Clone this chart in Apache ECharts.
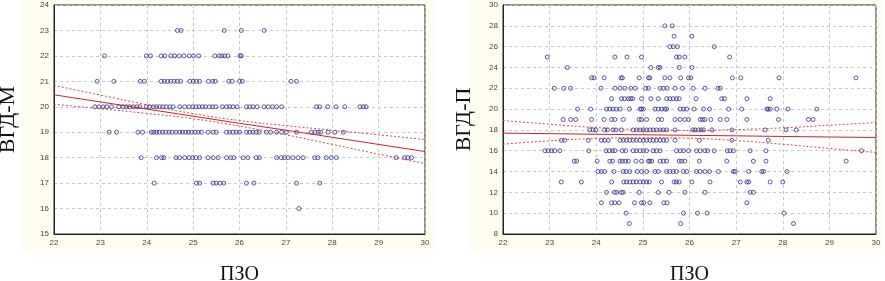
<!DOCTYPE html>
<html>
<head>
<meta charset="utf-8">
<script src="https://cdn.jsdelivr.net/npm/echarts@6/dist/echarts.min.js"></script>
<style>
html,body{margin:0;padding:0;background:#fff;}
#chart{width:885px;height:281px;}
</style>
</head>
<body>
<div id="chart"></div>
<script>
// ---- Axis settings ----
const xMin = 22, xMax = 30;
const mYMin = 15, mYMax = 24;
const pYMin = 8, pYMax = 30;
const xTitle = 'ПЗО';
const mTitle = 'ВГД-М';
const pTitle = 'ВГД-П';

// ---- Left plot (ВГД-М): x values (ПЗО) for each integer ВГД-М level ----
const m23 = [24.66, 24.74, 25.67, 26.04, 26.53];
const m22 = [23.09, 23.99, 24.08, 24.31, 24.39, 24.52, 24.6, 24.7, 24.8, 24.92, 25.01, 25.12, 25.47, 25.56, 25.62, 25.68, 25.75, 26.01, 26.04];
const m21 = [22.93, 23.29, 23.86, 23.95, 24.31, 24.38, 24.45, 24.52, 24.59, 24.66, 24.73, 24.93, 25.0, 25.07, 25.14, 25.33, 25.42, 25.48, 25.77, 25.84, 26.0, 26.06, 27.11, 27.23];
const m20 = [22.88, 22.97, 23.06, 23.14, 23.24, 23.40, 23.49, 23.56, 23.63, 23.71, 23.79, 23.85, 23.99, 24.06, 24.14, 24.21, 24.28, 24.35, 24.42, 24.50, 24.57, 24.71, 24.82, 24.91, 24.99, 25.06, 25.13, 25.20, 25.27, 25.35, 25.42, 25.49, 25.63, 25.72, 25.79, 25.86, 25.95, 26.15, 26.22, 26.29, 26.38, 26.53, 26.62, 26.71, 26.80, 26.91, 27.66, 27.73, 27.90, 28.08, 28.27, 28.60, 28.67, 28.73];
const m19 = [23.19, 23.35, 23.81, 23.91, 24.10, 24.15, 24.21, 24.27, 24.34, 24.41, 24.48, 24.55, 24.63, 24.71, 24.77, 24.84, 24.90, 24.97, 25.04, 25.11, 25.18, 25.32, 25.43, 25.50, 25.72, 25.79, 25.86, 25.93, 26.0, 26.15, 26.22, 26.29, 26.36, 26.42, 26.58, 26.67, 26.80, 26.91, 27.01, 27.23, 27.55, 27.63, 27.70, 27.75, 27.91, 28.06, 28.24];
const m18 = [23.88, 24.21, 24.32, 24.37, 24.63, 24.71, 24.82, 24.91, 24.99, 25.06, 25.14, 25.32, 25.43, 25.54, 25.72, 25.81, 25.88, 26.08, 26.18, 26.36, 26.43, 26.80, 26.90, 26.97, 27.05, 27.15, 27.26, 27.37, 27.62, 27.69, 27.87, 27.98, 28.09, 29.38, 29.56, 29.63, 29.71];
const m17 = [24.16, 25.07, 25.14, 25.43, 25.50, 25.58, 25.66, 26.15, 26.31, 27.23, 27.73];
const m16 = [27.28];

// regression line and confidence band
const bandX   = [22, 23, 24, 25, 26, 27, 28, 29, 30];
const mFit    = [20.47, 20.19, 19.91, 19.63, 19.35, 19.08, 18.80, 18.52, 18.24];
const mUpper  = [20.84, 20.46, 20.08, 19.73, 19.46, 19.26, 19.08, 18.90, 18.71];
const mLower  = [20.10, 19.92, 19.74, 19.53, 19.24, 18.90, 18.52, 18.14, 17.77];

// ---- Right plot (ВГД-П): x values (ПЗО) for each integer ВГД-П level ----
const p28 = [25.47, 25.63];
const p27 = [25.67, 26.05];
const p26 = [25.58, 25.65, 25.74, 26.53];
const p25 = [22.95, 24.40, 24.66, 24.97, 25.72, 25.78, 25.90, 26.86];
const p24 = [23.38, 25.17, 25.33, 25.37, 25.78, 26.05];
const p23 = [23.90, 23.95, 24.17, 24.53, 24.56, 24.92, 25.12, 25.15, 25.47, 25.58, 25.81, 25.98, 26.03, 26.92, 27.10, 27.92, 29.57];
const p22 = [23.10, 23.30, 23.45, 24.10, 24.40, 24.51, 24.61, 24.74, 24.84, 25.06, 25.12, 25.37, 25.44, 25.52, 25.69, 25.85, 26.08, 26.33, 26.61, 26.66];
const p21 = [24.33, 24.54, 24.61, 24.69, 24.74, 24.78, 24.97, 25.17, 25.33, 25.51, 25.58, 25.65, 25.72, 25.78, 26.14, 26.69, 26.75, 27.23, 27.73];
const p20 = [23.60, 23.88, 24.22, 24.29, 24.36, 24.43, 24.51, 24.71, 24.94, 24.97, 25.01, 25.26, 25.33, 25.40, 25.47, 25.51, 25.80, 25.87, 25.94, 26.10, 26.30, 26.43, 26.84, 27.12, 27.66, 27.69, 27.73, 27.87, 28.11, 28.73];
const p19 = [23.29, 23.45, 23.56, 23.90, 24.17, 24.33, 24.40, 24.58, 24.92, 24.97, 25.08, 25.33, 25.40, 25.69, 25.80, 25.90, 25.98, 26.23, 26.28, 26.33, 26.46, 26.66, 26.80, 27.23, 27.91, 28.55, 28.65];
const p18 = [23.86, 23.93, 23.99, 24.18, 24.24, 24.36, 24.42, 24.54, 24.79, 24.86, 24.94, 25.01, 25.08, 25.15, 25.22, 25.29, 25.37, 25.44, 25.51, 25.69, 26.07, 26.12, 26.19, 26.25, 26.30, 26.48, 26.91, 27.62, 28.07, 28.29];
const p17 = [23.25, 23.32, 23.83, 24.11, 24.18, 24.26, 24.51, 24.58, 24.65, 24.72, 24.79, 24.86, 24.94, 25.01, 25.08, 25.15, 25.22, 25.29, 25.37, 25.44, 25.51, 25.69, 26.21, 26.91, 27.69];
const p16 = [22.90, 22.97, 23.04, 23.11, 23.22, 23.84, 24.21, 24.28, 24.35, 24.40, 24.56, 24.63, 24.79, 24.86, 24.94, 25.01, 25.08, 25.22, 25.29, 25.37, 25.72, 25.80, 25.87, 25.98, 26.15, 26.23, 26.33, 26.39, 26.53, 26.81, 26.87, 26.94, 27.30, 27.64, 29.69];
const p15 = [23.53, 23.58, 24.02, 24.29, 24.35, 24.51, 24.56, 24.63, 24.69, 24.85, 24.97, 25.12, 25.15, 25.19, 25.37, 25.44, 25.51, 25.78, 25.83, 25.90, 26.21, 26.80, 27.37, 27.64, 29.36];
const p14 = [24.04, 24.11, 24.18, 24.38, 24.58, 24.64, 24.72, 24.88, 24.97, 25.08, 25.26, 25.33, 25.51, 25.58, 25.65, 25.72, 25.87, 25.94, 26.15, 26.23, 26.33, 26.43, 26.62, 26.94, 26.98, 27.27, 27.55, 27.59, 28.09];
const p13 = [23.25, 23.68, 24.33, 24.59, 24.65, 24.72, 24.79, 24.86, 24.94, 25.01, 25.08, 25.14, 25.40, 25.67, 25.72, 25.78, 26.05, 26.44, 27.09, 27.23, 27.27, 27.73, 28.00];
const p12 = [24.22, 24.39, 24.44, 24.54, 24.58, 24.92, 25.33, 25.56, 25.90, 26.33, 27.30, 27.37];
const p11 = [24.11, 24.33, 24.40, 24.49, 24.82, 24.97, 25.02, 25.15, 25.45, 25.52, 27.23];
const p10 = [24.64, 25.87, 26.17, 26.38, 28.03];
const p9  = [24.71, 25.81, 28.23];

const pFit   = [17.69, 17.64, 17.58, 17.53, 17.48, 17.43, 17.37, 17.32, 17.27];
const pUpper = [18.90, 18.55, 18.22, 18.02, 17.95, 18.03, 18.20, 18.45, 18.71];
const pLower = [16.63, 16.95, 17.18, 17.25, 17.20, 16.97, 16.62, 16.22, 15.83];

// ---- build point lists ----
function rows(list) {
  const out = [];
  list.forEach(([y, xs]) => xs.forEach(x => out.push([x, y])));
  return out;
}
const mPoints = rows([[23,m23],[22,m22],[21,m21],[20,m20],[19,m19],[18,m18],[17,m17],[16,m16]]);
const pPoints = rows([[28,p28],[27,p27],[26,p26],[25,p25],[24,p24],[23,p23],[22,p22],[21,p21],[20,p20],[19,p19],[18,p18],[17,p17],[16,p16],[15,p15],[14,p14],[13,p13],[12,p12],[11,p11],[10,p10],[9,p9]]);
const pair = (xs, ys) => xs.map((x, i) => [x, ys[i]]);

const chart = echarts.init(document.getElementById('chart'), null, {renderer: 'canvas'});

const tickFont = {fontFamily: 'Liberation Sans, Arial, sans-serif', fontSize: 8, color: '#444'};
const splitLine = {show: true, lineStyle: {color: '#c8c8c8', type: [3, 3], width: 1}};
const titleFont = {fontFamily: 'Liberation Serif, Times New Roman, serif', color: '#111'};

function xAxis(gi) {
  return {
    gridIndex: gi, type: 'value', min: xMin, max: xMax, interval: 1,
    name: xTitle, nameLocation: 'middle', nameGap: 31,
    nameTextStyle: Object.assign({fontSize: 20}, titleFont),
    axisLine: {show: true, lineStyle: {color: '#222'}},
    axisTick: {show: false},
    axisLabel: Object.assign({margin: 5}, tickFont),
    splitLine: splitLine
  };
}
function yAxis(gi, min, max, interval, name, gap) {
  return {
    gridIndex: gi, type: 'value', min: min, max: max, interval: interval,
    name: name, nameLocation: 'middle', nameGap: gap, nameRotate: 90,
    nameTextStyle: Object.assign({fontSize: 22}, titleFont),
    axisLine: {show: true, lineStyle: {color: '#222'}},
    axisTick: {show: false},
    axisLabel: Object.assign({margin: 5}, tickFont),
    splitLine: splitLine
  };
}
const scatterStyle = {
  type: 'scatter', symbol: 'circle', symbolSize: 4,
  itemStyle: {color: 'rgba(255,255,255,0)', borderColor: '#33338c', borderWidth: 1},
  silent: true, z: 3
};
function fitLine(xi, yi, data) {
  return {type: 'line', xAxisIndex: xi, yAxisIndex: yi, data: data, symbol: 'none',
    lineStyle: {color: '#c0282a', width: 1}, z: 4, silent: true};
}
function bandLine(xi, yi, data) {
  return {type: 'line', xAxisIndex: xi, yAxisIndex: yi, data: data, symbol: 'none', smooth: true,
    lineStyle: {color: '#d04a50', width: 1, type: [2, 2]}, z: 4, silent: true};
}

chart.setOption({
  backgroundColor: '#ffffff',
  animation: false,
  graphic: [
    {type: 'rect', shape: {x: 22, y: 0, width: 412, height: 253}, style: {fill: '#fffcf0'}, z: -10, silent: true},
    {type: 'rect', shape: {x: 470, y: 0, width: 412, height: 253}, style: {fill: '#fffcf0'}, z: -10, silent: true}
  ],
  grid: [
    {left: 54, top: 5, width: 371, height: 229, outerBoundsMode: 'none', containLabel: false, show: true, backgroundColor: '#ffffff', borderColor: '#222', borderWidth: 1},
    {left: 503, top: 5, width: 373, height: 229, outerBoundsMode: 'none', containLabel: false, show: true, backgroundColor: '#ffffff', borderColor: '#222', borderWidth: 1}
  ],
  xAxis: [xAxis(0), xAxis(1)],
  yAxis: [yAxis(0, mYMin, mYMax, 1, mTitle, 35), yAxis(1, pYMin, pYMax, 2, pTitle, 28)],
  series: [
    Object.assign({xAxisIndex: 0, yAxisIndex: 0, data: mPoints}, scatterStyle),
    fitLine(0, 0, pair(bandX, mFit)),
    bandLine(0, 0, pair(bandX, mUpper)),
    bandLine(0, 0, pair(bandX, mLower)),
    Object.assign({xAxisIndex: 1, yAxisIndex: 1, data: pPoints}, scatterStyle),
    fitLine(1, 1, pair(bandX, pFit)),
    bandLine(1, 1, pair(bandX, pUpper)),
    bandLine(1, 1, pair(bandX, pLower))
  ]
});
</script>
</body>
</html>
